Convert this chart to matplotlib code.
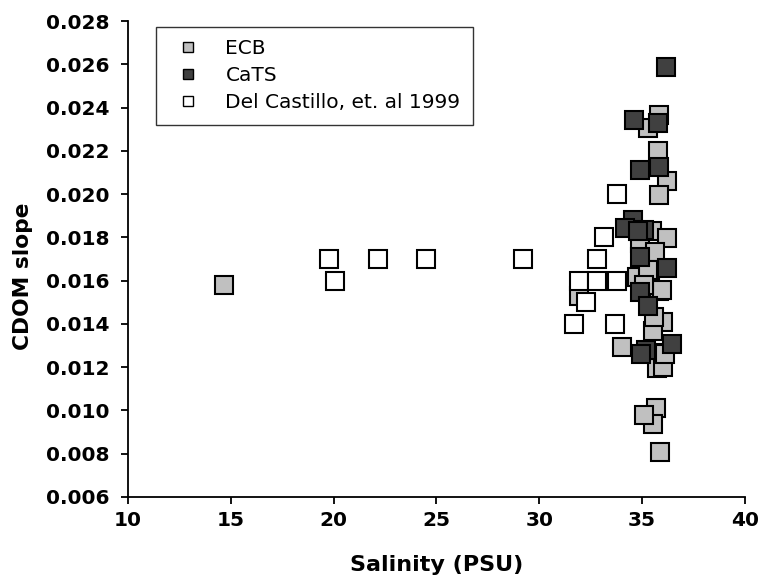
import matplotlib
matplotlib.use("Agg")
import matplotlib.pyplot as plt
from matplotlib.ticker import MultipleLocator, FormatStrFormatter

plt.rcParams['font.family'] = ['DejaVu Sans']

# ECB stations
ecb_sal = [14.67, 31.94, 35.27, 35.80, 35.78, 36.20, 35.80, 35.50, 36.20, 34.90,
           35.63, 35.40, 34.74, 35.80, 35.95, 36.03, 35.52, 34.01, 35.87, 35.71,
           36.03, 35.68, 35.55, 35.07, 35.87, 35.30, 35.10, 35.60, 36.10]
ecb_slope = [0.0158, 0.0153, 0.02304, 0.02365, 0.0220, 0.0206, 0.01996, 0.0183, 0.01795, 0.01774,
             0.01733, 0.01626, 0.01618, 0.0155, 0.01557, 0.01407, 0.01367, 0.01292, 0.01267, 0.01195,
             0.01202, 0.0101, 0.00936, 0.00979, 0.00809, 0.0165, 0.0158, 0.0143, 0.0126]

# CaTS stations
cats_sal = [34.63, 35.78, 36.15, 34.90, 35.83, 34.55, 34.17, 35.07, 34.80, 34.90,
            36.20, 34.90, 35.30, 36.44, 35.20, 34.93]
cats_slope = [0.02345, 0.0233, 0.02588, 0.0211, 0.02126, 0.0188, 0.01842, 0.01834, 0.0183, 0.0171,
              0.01657, 0.01549, 0.01483, 0.01307, 0.0128, 0.01261]

# Del Castillo et al. 1999
dc_sal = [19.77, 20.06, 22.17, 24.47, 29.19, 32.80, 31.94, 32.80, 33.77, 32.28,
          31.67, 33.70, 33.17, 33.77]
dc_slope = [0.017, 0.016, 0.017, 0.017, 0.017, 0.017, 0.016, 0.016, 0.016, 0.015,
            0.014, 0.014, 0.018, 0.020]

fig = plt.figure(figsize=(7.64, 5.86), dpi=100)
ax = fig.add_axes([0.1675, 0.152, 0.8075, 0.812])

mk = dict(marker='s', linestyle='none', markersize=13.5, markeredgecolor='black',
          markeredgewidth=1.5)
ax.plot(ecb_sal, ecb_slope, markerfacecolor='#c0c0c0', label='ECB', **mk)
ax.plot(cats_sal, cats_slope, markerfacecolor='#404040', label='CaTS', **mk)
ax.plot(dc_sal, dc_slope, markerfacecolor='white', label='Del Castillo, et. al 1999', **mk)

ax.set_xlim(10, 40)
ax.set_ylim(0.006, 0.028)
ax.xaxis.set_major_locator(MultipleLocator(5))
ax.yaxis.set_major_locator(MultipleLocator(0.002))
ax.yaxis.set_major_formatter(FormatStrFormatter('%.3f'))

for s in ['top', 'right']:
    ax.spines[s].set_visible(False)
for s in ['left', 'bottom']:
    ax.spines[s].set_linewidth(1.3)
ax.tick_params(direction='out', length=5, width=1.3, labelsize=14.5)
ax.tick_params(axis='y', pad=8)
ax.tick_params(axis='x', pad=5)
for lbl in ax.get_xticklabels() + ax.get_yticklabels():
    lbl.set_fontweight('bold')

ax.set_xlabel('Salinity (PSU)', fontsize=16, fontweight='bold')
ax.xaxis.set_label_coords(0.5, -0.122)
ax.set_ylabel('CDOM slope', fontsize=15.7, fontweight='bold')
ax.yaxis.set_label_coords(-0.154, 0.464)

leg = ax.legend(loc='upper left', bbox_to_anchor=(0.0454, 0.987), borderaxespad=0,
                markerscale=0.55, fontsize=14.5, fancybox=False, frameon=True,
                labelspacing=0.4, handletextpad=0.85, borderpad=0.6, handlelength=2.0)
leg.get_frame().set_edgecolor('black')
leg.get_frame().set_linewidth(1.0)
for h in leg.legend_handles:
    h.set_markeredgewidth(1.0)

fig.savefig('out.png', dpi=100)
